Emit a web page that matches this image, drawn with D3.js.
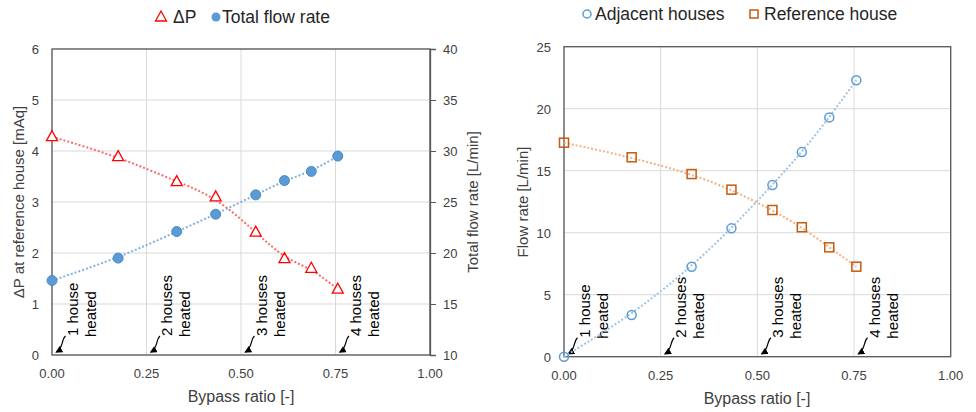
<!DOCTYPE html>
<html><head><meta charset="utf-8">
<script src="https://cdn.jsdelivr.net/npm/d3@7"></script>
<style>
body{margin:0;background:#fff;}
text{font-family:"Liberation Sans",Arial,sans-serif;}
</style></head>
<body><svg id="c" width="976" height="412"></svg>
<script>
// ---- data ----
const bypassRatio = [0, 0.175, 0.33, 0.433, 0.539, 0.615, 0.686, 0.756];
const deltaP = [4.28, 3.89, 3.40, 3.10, 2.41, 1.89, 1.70, 1.29];          // mAq
const totalFlow = [17.3, 19.5, 22.1, 23.8, 25.7, 27.1, 28.0, 29.5];      // L/min
const adjacentFlow = [0, 3.36, 7.26, 10.35, 13.85, 16.5, 19.3, 22.3];   // L/min
const referenceFlow = [17.26, 16.08, 14.73, 13.47, 11.83, 10.44, 8.82, 7.26]; // L/min
const xTicks = [0, 0.25, 0.5, 0.75, 1.0];
const yLeftTicks = [0, 1, 2, 3, 4, 5, 6];
const yRightTicks = [10, 15, 20, 25, 30, 35, 40];
const y2Ticks = [0, 5, 10, 15, 20, 25];
const annotX = [0, 0.25, 0.5, 0.75];
const annotLine1 = ["1 house", "2 houses", "3 houses", "4 houses"];
const annotLine2 = ["heated", "heated", "heated", "heated"];

const svg = d3.select("#c");
const defs = svg.append("defs");
defs.append("marker").attr("id","ah").attr("viewBox","0 0 10 10").attr("refX",8).attr("refY",5)
  .attr("markerWidth",6).attr("markerHeight",6).attr("orient","auto-start-reverse")
  .append("path").attr("d","M0,0 L10,5 L0,10 z").attr("fill","#000");

const gridC = "#d9d9d9", axisC = "#595959", txtC = "#404040";

function xAxisBottom(g, x, y0, yTop) {
  g.selectAll(".vg").data(xTicks).join("line")
    .attr("x1", d=>x(d)).attr("x2", d=>x(d)).attr("y1", y0).attr("y2", yTop)
    .attr("stroke", gridC).attr("stroke-width",1);
  g.selectAll(".xt").data(xTicks).join("text")
    .attr("x", d=>x(d)).attr("y", y0+23).attr("text-anchor","middle")
    .attr("font-size",13).attr("fill",txtC).text(d=>d3.format(".2f")(d));
}
function annotations(g, x, y0) {
  annotX.forEach((v,i)=>{
    const tx = x(v)+3.5, ty = y0-2;
    g.append("path").attr("d",`M${tx+10},${ty-17} C${tx+6},${ty-14} ${tx+8},${ty-5} ${tx+1},${ty-1}`)
      .attr("fill","none").attr("stroke","#000").attr("stroke-width",1.2).attr("marker-end","url(#ah)");
    g.append("text").attr("transform",`translate(${tx+22},${ty-17}) rotate(-90)`)
      .attr("font-size",15).attr("fill","#000").text(annotLine1[i]);
    g.append("text").attr("transform",`translate(${tx+40},${ty-16}) rotate(-90)`)
      .attr("font-size",15).attr("fill","#000").text(annotLine2[i]);
  });
}
function triPath(cx, cy){ return `M${cx},${cy-6} L${cx+5.5},${cy+4} L${cx-5.5},${cy+4} Z`; }

// ================= LEFT CHART =================
{
  const x = d3.scaleLinear([0,1],[52,430]);
  const yL = d3.scaleLinear([0,6],[355,49]);
  const yR = d3.scaleLinear([10,40],[355,49]);
  const g = svg.append("g");
  g.selectAll(".hg").data(yLeftTicks).join("line")
    .attr("x1",52).attr("x2",430).attr("y1",d=>yL(d)).attr("y2",d=>yL(d))
    .attr("stroke",gridC);
  xAxisBottom(g, x, 355, 49);
  g.append("rect").attr("x",52).attr("y",49).attr("width",378).attr("height",306)
    .attr("fill","none").attr("stroke",axisC).attr("stroke-width",1.3);
  g.selectAll(".yl").data(yLeftTicks).join("text")
    .attr("x",39).attr("y",d=>yL(d)+5).attr("text-anchor","end")
    .attr("font-size",13).attr("fill",txtC).text(d=>d);
  const ra = g.append("g").attr("transform","translate(430,0)")
    .call(d3.axisRight(yR).tickValues(yRightTicks).tickSize(6).tickPadding(7));
  ra.select(".domain").attr("stroke",axisC).attr("stroke-width",1.3);
  ra.selectAll(".tick line").attr("stroke",axisC);
  ra.selectAll(".tick text").attr("font-size",13).attr("fill",txtC).attr("font-family","Liberation Sans, Arial");
  g.append("text").attr("transform","translate(24,202) rotate(-90)").attr("text-anchor","middle")
    .attr("font-size",15).attr("fill",txtC).text("ΔP at reference  house [mAq]");
  g.append("text").attr("transform","translate(478,202) rotate(-90)").attr("text-anchor","middle")
    .attr("font-size",15).attr("fill",txtC).text("Total flow  rate  [L/min]");
  g.append("text").attr("x",241).attr("y",402).attr("text-anchor","middle")
    .attr("font-size",16).attr("fill",txtC).text("Bypass ratio [-]");
  annotations(g, x, 355);
  const pts1 = bypassRatio.map((b,i)=>[x(b), yL(deltaP[i])]);
  const pts2 = bypassRatio.map((b,i)=>[x(b), yR(totalFlow[i])]);
  const line = d3.line().curve(d3.curveBasis);
  g.append("path").attr("d",line(pts1)).attr("fill","none").attr("stroke","#ff6b6b")
    .attr("stroke-width",2).attr("stroke-dasharray","2,2");
  g.append("path").attr("d",line(pts2)).attr("fill","none").attr("stroke","#7fb2e0")
    .attr("stroke-width",2).attr("stroke-dasharray","2,2");
  g.selectAll(".tri").data(pts1).join("path").attr("d",d=>triPath(d[0],d[1]))
    .attr("fill","#fff").attr("stroke","#ff0000").attr("stroke-width",1.3);
  g.selectAll(".cir").data(pts2).join("circle").attr("cx",d=>d[0]).attr("cy",d=>d[1]).attr("r",5)
    .attr("fill","#5b9bd5").attr("stroke","#4a8ac8").attr("stroke-width",1);
  g.append("path").attr("d",triPath(161,17)).attr("fill","#fff").attr("stroke","#ff0000").attr("stroke-width",1.3);
  g.append("text").attr("x",173).attr("y",23).attr("font-size",17.5).attr("fill","#262626").text("ΔP");
  g.append("circle").attr("cx",216).attr("cy",17).attr("r",4.5).attr("fill","#5b9bd5");
  g.append("text").attr("x",222).attr("y",23).attr("font-size",17.5).attr("fill","#262626").text("Total flow rate");
}

// ================= RIGHT CHART =================
{
  const x = d3.scaleLinear([0,1],[564,950.7]);
  const y = d3.scaleLinear([0,25],[356.7,46.7]);
  const g = svg.append("g");
  g.selectAll(".hg").data(y2Ticks).join("line")
    .attr("x1",564).attr("x2",950.7).attr("y1",d=>y(d)).attr("y2",d=>y(d)).attr("stroke",gridC);
  xAxisBottom(g, x, 356.7, 46.7);
  g.append("rect").attr("x",564).attr("y",46.7).attr("width",386.7).attr("height",310)
    .attr("fill","none").attr("stroke",axisC).attr("stroke-width",1.3);
  g.selectAll(".yl").data(y2Ticks).join("text")
    .attr("x",551).attr("y",d=>y(d)+5).attr("text-anchor","end")
    .attr("font-size",13).attr("fill",txtC).text(d=>d);
  g.append("text").attr("transform","translate(528,202) rotate(-90)").attr("text-anchor","middle")
    .attr("font-size",15).attr("fill",txtC).text("Flow rate  [L/min]");
  g.append("text").attr("x",757).attr("y",404).attr("text-anchor","middle")
    .attr("font-size",16).attr("fill",txtC).text("Bypass ratio [-]");
  annotations(g, x, 356.7);
  const ptsA = bypassRatio.map((b,i)=>[x(b), y(adjacentFlow[i])]);
  const ptsR = bypassRatio.map((b,i)=>[x(b), y(referenceFlow[i])]);
  const line = d3.line().curve(d3.curveBasis);
  g.append("path").attr("d",line(ptsA)).attr("fill","none").attr("stroke","#9dc3e6")
    .attr("stroke-width",2).attr("stroke-dasharray","2,2");
  g.append("path").attr("d",line(ptsR)).attr("fill","none").attr("stroke","#f4b183")
    .attr("stroke-width",2).attr("stroke-dasharray","2,2");
  g.selectAll(".cir").data(ptsA).join("circle").attr("cx",d=>d[0]).attr("cy",d=>d[1]).attr("r",4.5)
    .attr("fill","none").attr("stroke","#5b9bd5").attr("stroke-width",1.5);
  g.selectAll(".sq").data(ptsR).join("rect").attr("x",d=>d[0]-4.5).attr("y",d=>d[1]-4.5)
    .attr("width",9).attr("height",9).attr("fill","none").attr("stroke","#c55a11").attr("stroke-width",1.5);
  g.append("circle").attr("cx",587).attr("cy",14).attr("r",4).attr("fill","none").attr("stroke","#5b9bd5").attr("stroke-width",1.5);
  g.append("text").attr("x",595).attr("y",20).attr("font-size",17.5).attr("fill","#262626").text("Adjacent houses");
  g.append("rect").attr("x",750).attr("y",10).attr("width",8).attr("height",8)
    .attr("fill","none").attr("stroke","#c55a11").attr("stroke-width",1.5);
  g.append("text").attr("x",764).attr("y",20).attr("font-size",17.5).attr("fill","#262626").text("Reference house");
}
</script></body></html>
